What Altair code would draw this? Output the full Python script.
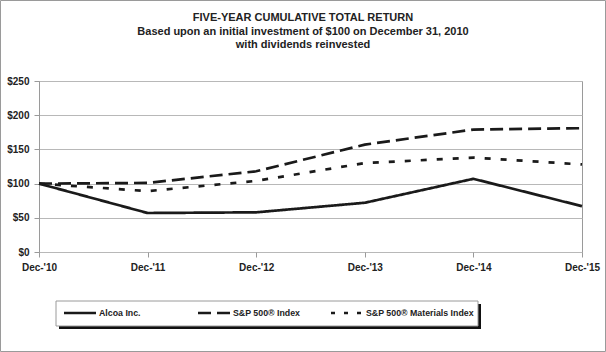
import altair as alt
import pandas as pd

PERIODS = ["Dec-'10", "Dec-'11", "Dec-'12", "Dec-'13", "Dec-'14", "Dec-'15"]
SERIES = ["Alcoa Inc.", "S&P 500® Index", "S&P 500® Materials Index"]
ALCOA = [100, 57, 58, 72, 107, 67]
SP500 = [100, 101, 118, 157, 179, 181]
MATERIALS = [100, 89, 104, 130, 138, 128]
Y_TICKS = [0, 50, 100, 150, 200, 250]
TITLE_LINES = [
    "FIVE-YEAR CUMULATIVE TOTAL RETURN",
    "Based upon an initial investment of $100 on December 31, 2010",
    "with dividends reinvested",
]

rows = []
for name, vals in zip(SERIES, [ALCOA, SP500, MATERIALS]):
    for p, v in zip(PERIODS, vals):
        rows.append({"period": p, "series": name, "value": v})
df = pd.DataFrame(rows)

FONT = "Liberation Sans"
INK = "#1a1a1a"
GRAY = "#9a9a9a"
W, H = 543, 171
LEFT, TOP = 39, 81
DASHES = [[1, 0], [13, 6], [6, 10]]
LEGEND_DASHES = [[1, 0], [13, 6], [4, 9]]
LEGEND_LINE_X = [25, 159, 292]
LEGEND_Y = 232

one = pd.DataFrame({"k": [0]})

x = alt.X(
    "period:N",
    sort=PERIODS,
    scale=alt.Scale(type="point", padding=0),
    axis=alt.Axis(
        title=None, labelAngle=0, domain=False, grid=False,
        ticks=True, tickSize=5, tickColor=GRAY,
        labelFont=FONT, labelFontWeight="bold", labelFontSize=10,
        labelColor="#222", labelPadding=5,
    ),
)
y = alt.Y(
    "value:Q",
    scale=alt.Scale(domain=[0, 250], nice=False),
    axis=alt.Axis(
        title=None, values=Y_TICKS, labelExpr="'$' + datum.value",
        grid=True, gridColor="#b8b8b8", domain=True, domainColor=GRAY,
        ticks=True, tickSize=5, tickColor=GRAY,
        labelFont=FONT, labelFontWeight="bold", labelFontSize=10,
        labelColor="#222", labelPadding=5,
    ),
)

lines = alt.Chart(df).mark_line(strokeWidth=2.7, clip=False).encode(
    x=x,
    y=y,
    detail="series:N",
    color=alt.value(INK),
    strokeDash=alt.StrokeDash(
        "series:N", scale=alt.Scale(domain=SERIES, range=DASHES), legend=None
    ),
)

border = alt.Chart(one).mark_rect(fill=None, stroke=GRAY, strokeWidth=1).encode(
    x=alt.value(-LEFT + 0.5), x2=alt.value(606 - LEFT - 0.5),
    y=alt.value(-TOP + 0.5), y2=alt.value(352 - TOP - 0.5),
)

title_layers = []
for i, (line, yy) in enumerate(zip(TITLE_LINES, [-63, -49, -36])):
    t = alt.Chart(pd.DataFrame({"t": [line]})).mark_text(
        font=FONT, fontWeight="bold", fontSize=11, color="#222",
        align="center", baseline="middle",
    ).encode(x=alt.value(303 - LEFT), y=alt.value(yy), text="t:N")
    title_layers.append(t)

shadow = alt.Chart(one).mark_rect(fill="#111").encode(
    x=alt.value(20), x2=alt.value(442), y=alt.value(223), y2=alt.value(248)
)
box = alt.Chart(one).mark_rect(fill="white", stroke=GRAY, strokeWidth=1).encode(
    x=alt.value(17), x2=alt.value(439), y=alt.value(220), y2=alt.value(245)
)

legend_layers = []
for name, dash, lx in zip(SERIES, LEGEND_DASHES, LEGEND_LINE_X):
    d = pd.DataFrame({"series": [name]})
    r = alt.Chart(d).mark_rule(strokeWidth=2.7, color=INK, strokeDash=dash).encode(
        x=alt.value(lx), x2=alt.value(lx + 32), y=alt.value(LEGEND_Y)
    )
    tx = alt.Chart(d).mark_text(
        font=FONT, fontWeight="bold", fontSize=8.8, color="#222",
        align="left", baseline="middle",
    ).encode(x=alt.value(lx + 35), y=alt.value(LEGEND_Y), text="series:N")
    legend_layers += [r, tx]

chart = alt.layer(
    border, lines, *title_layers, shadow, box, *legend_layers
).properties(
    width=W, height=H,
    autosize=alt.AutoSizeParams(type="none"),
    padding={"left": LEFT, "top": TOP, "right": 606 - LEFT - W, "bottom": 352 - TOP - H},
    background="white",
).configure_view(stroke=GRAY, strokeWidth=1)

chart.save("out.html", embed_options={"renderer": "svg", "actions": False})
